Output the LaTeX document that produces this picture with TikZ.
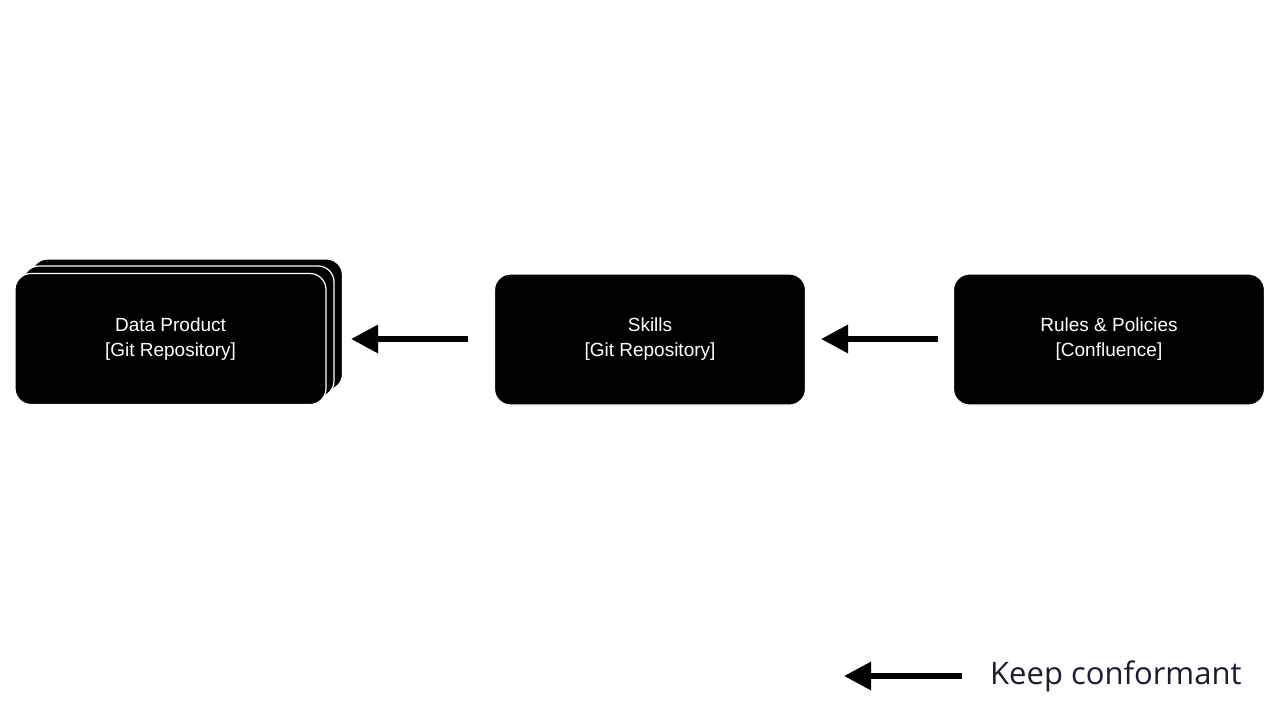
\documentclass[tikz,border=0pt]{standalone}
\usepackage{fontspec}
\setmainfont{Liberation Sans}
\newfontfamily\legendfont{Open Sans}
\usetikzlibrary{arrows.meta}
\definecolor{navy}{HTML}{1A1D2E}
\begin{document}
\begin{tikzpicture}[x=1pt,y=-1pt,
  box/.style={fill=black,draw=white,line width=1.2pt,rounded corners=16pt,minimum width=311pt,minimum height=131pt,text=white,align=center,font=\fontsize{19}{25}\selectfont},
  arr/.style={line width=6pt,-{Triangle[length=27pt,width=27pt]}}]
\useasboundingbox (0,0) rectangle (1280,720);
\node[box] (dp3) at (187,324.5) {};
\node[box] (dp2) at (178.5,331.5) {};
\node[box] (dp) at (170.5,339) {Data Product\\{}[Git Repository]};
\node[box] (sk) at (650,339.5) {Skills\\{}[Git Repository]};
\node[box] (rp) at (1109,339.5) {Rules \& Policies\\{}[Confluence]};
\coordinate (a1s) at (468,339); \coordinate (a1e) at (351,339);
\coordinate (a2s) at (938,339); \coordinate (a2e) at (821,339);
\draw[arr] (a1s) -- (a1e);
\draw[arr] (a2s) -- (a2e);
\coordinate (ls) at (962,676); \coordinate (le) at (844,676);
\draw[arr] (ls) -- (le);
\node[anchor=west,text=navy,font=\legendfont\fontsize{31}{36}\selectfont,inner sep=0pt] (lt) at (990,676) {Keep conformant};
\end{tikzpicture}
\end{document}
